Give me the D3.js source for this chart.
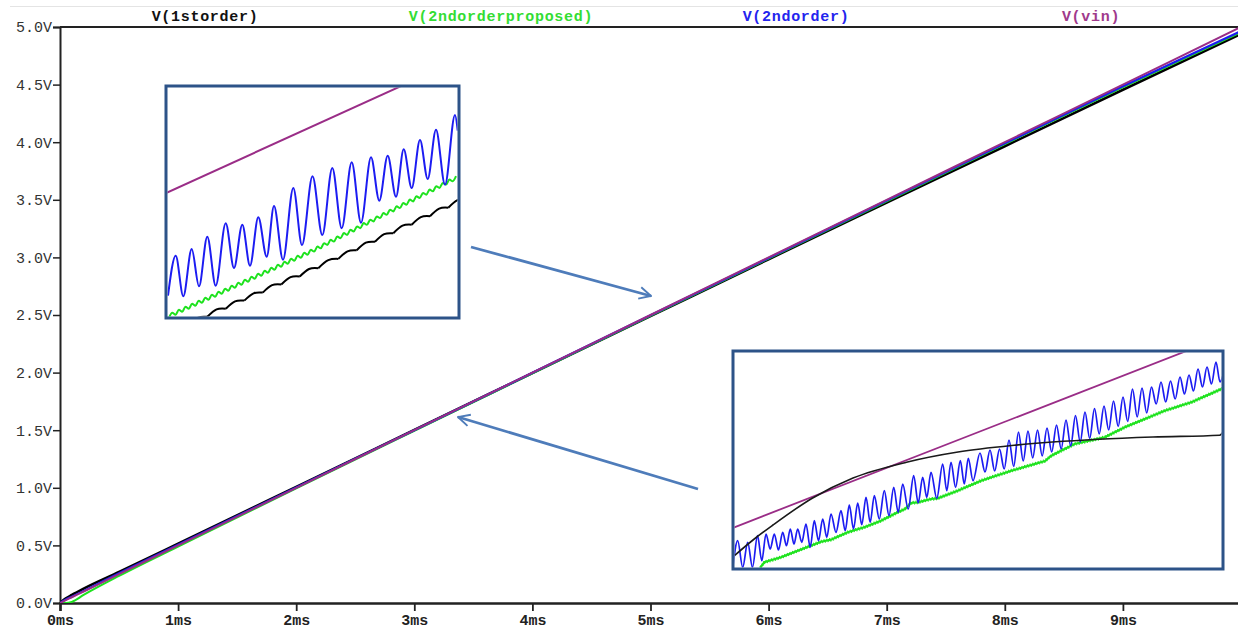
<!DOCTYPE html>
<html><head><meta charset="utf-8">
<script src="https://cdn.jsdelivr.net/npm/d3@7"></script>
<style>body{margin:0;background:#fff;} svg{display:block;}</style>
</head><body><svg id="c" width="1238" height="630"></svg>
<script>
// ---------- main chart data ----------
const timeMs   = [0, 0.05, 0.1, 0.2, 0.5, 1, 2, 3, 4, 5, 6, 7, 8, 9, 10];
const vVin     = [0, 0.025, 0.05, 0.1, 0.25, 0.5, 1, 1.5, 2, 2.5, 3, 3.5, 4, 4.5, 5];
const v1st     = [0, 0.04, 0.07, 0.125, 0.27, 0.515, 1.008, 1.502, 1.996, 2.49, 2.984, 3.476, 3.965, 4.455, 4.94];
const v2nd     = [0, 0.03, 0.055, 0.105, 0.258, 0.505, 1.003, 1.5, 1.998, 2.497, 2.995, 3.493, 3.99, 4.485, 4.965];
const v2ndProp = [0, 0, 0.01, 0.07, 0.235, 0.49, 0.995, 1.495, 1.993, 2.492, 2.99, 3.487, 3.983, 4.477, 4.955];
const seriesNames = ["V(1storder)", "V(2ndorderproposed)", "V(2ndorder)", "V(vin)"];
const xTickVals = [0,1,2,3,4,5,6,7,8,9];
const yTickVals = [0,0.5,1,1.5,2,2.5,3,3.5,4,4.5,5];

// ---------- inset 1 (zoomed detail) data, local units ----------
const in1VinT = [0, 293];
const in1VinV = [125, 258.3];
const in1BlueT = [2,9.7,17.3,25.7,33,41.3,49.7,59.7,68,76.3,84,92.3,100.7,108,117,127.3,136,146.5,156.3,166.3,175.7,185.7,195,205,213.3,221.7,230,237.7,245.7,254,261.7,270,279,289,291.7];
const in1BlueV = [22.3,62.3,21.7,69,31.7,81.3,32.3,94.7,50,93.3,52.3,100.7,61.3,112,58.3,130,73,141.7,83,150,89.7,155.7,95.3,160.7,117.3,162.3,121.3,168.7,130,178,139,188.3,133.3,203,187.3];
const in1GreenV = [0.3,5.2,3.3,8.2,6.3,11.2,9.3,14.2,12.3,17.2,15.3,20.2,18.3,23.2,21.3,26.2,24.3,29.2,27.3,32.2,30.3,35.2,33.3,38.2,36.3,41.2,39.3,44.2,42.3,47.2,45.3,50.2,48.3,53.2,51.3,56.2,54.3,59.2,57.3,62.2,60.3,65.2,63.3,68.2,66.4,71.5,69.7,74.8,73.1,78.2,76.4,81.5,79.8,84.9,83.1,88.2,86.5,91.6,89.8,94.9,93.2,98.3,96.5,101.6,99.9,105.0,103.2,108.3,106.6,111.7,109.9,115.0,113.3,118.4,116.6,121.7,120.0,125.1,123.3,128.4,126.7,131.8,130.0,135.1,133.4,138.5,136.7,141.8];
const in1GreenSpan = [3, 290];
const in1CuspT = [22.8,41.3,59.8,78.3,96.8,115.3,133.8,152.3,172.3,190.7,209,227.3,245.7,264,282.3,300.6];
const in1CuspV = [-6.8,1.2,9.3,17.4,25.4,33.5,41.5,49.8,59.1,67.7,76.2,84.7,93.3,101.8,110.3,118.8];
const in1ArchT = [32.05,50.55,69.05,87.55,106.05,124.55,143.05,162.3,181.5,199.85,218.15,236.5,254.85,273.15,291.45];
const in1ArchV = [0.4,8.6,16.7,24.7,32.8,40.8,49,57.8,66.7,75.3,83.8,92.3,100.9,109.4,117.9];

// ---------- inset 2 (zoomed detail) data, local units ----------
const in2VinT = [0, 490];
const in2VinV = [41.2, 232.3];
const in2BlackT = [1.7, 20, 40, 79.2, 120, 173.5, 225, 281.2, 365.4, 420, 486.6, 493];
const in2BlackV = [13.6, 29, 44, 70.8, 91, 106.8, 117, 123.7, 129.7, 132, 133.8, 143];
const in2BlueT = [0,4.7,9.7,14.7,19.5,24.5,28.8,33,37.2,41.3,45.5,49.7,53.5,57.3,61,64.7,68.8,73,77.2,81.3,85.5,89.7,93.8,98,103,108,112.2,116.3,120.5,124.7,128.8,133,137.2,141.3,146.3,151.3,156,160.7,165.2,169.7,175.2,180.7,185.2,189.7,193.8,198,203.8,209.7,213.8,218,222.6,227.3,231.3,235.3,240,
  247,252,257,261.7,266.5,271.2,276,280.7,285.5,290.2,295,299.7,304.5,309.2,314,318.7,323.5,328.2,333,337.7,342.5,347.2,352,356.7,361.5,366.2,371,375.7,380.5,385.2,390,394.7,399.5,404.2,409,413.7,418.5,423.2,428,432.7,437.5,442.2,447,451.5,456,460.5,465,469.5,474,478.5,483,487,490];
const in2BlueV = [3,28.3,1.7,26.7,1.7,33.3,8.3,35,20,35,19,36.7,23.3,40,25,40,26.7,45,21.7,48.3,28.3,50,31.7,55,36.7,58.3,38.3,64,40,66,44.3,71.7,46.7,73.3,50,78.3,53.3,81.7,56.7,85,60,93.3,66,91.7,71.7,96.7,70.7,105,78.3,106.7,81.7,108.3,85,110.7,88.3,
  116,97,119,98,120,100,129,102.5,137,108,138,111,139,113,141,117,144,120,149,123,153.5,127,157,130.5,160.5,135,163,139,168,142.5,172,147.5,180,152,181,156,182,165,187,167,188,170,192,175,194,178,200,182,202,185,207,187,194];
const in2GreenT = [27,31.3,48,64.7,88,98,114.7,131.3,148,164.7,172,178,184.7,198,204.7,224.7,248,278.3,312,318,325,341.7,371.7,381.7,391.7,411.7,431.7,458.3,490];
const in2GreenV = [1,6.7,11.7,18.3,27.3,29.3,36.7,41.7,48.3,56.7,60,66,66.7,70,70.7,78.3,88.3,98.3,108,113,116.7,125,131.7,136.7,141.7,150,158.3,166.7,180.7];

// ---------- styles / layout ----------
const COL = {first:"#000000", prop:"#1ee21e", second:"#1c1cf2", vin:"#9a2d87"};
const LEG = {first:"#111111", prop:"#33dd33", second:"#2424ee", vin:"#a03a8c"};
const svg = d3.select("#c");
svg.append("rect").attr("width",1238).attr("height",630).attr("fill","#fff");
const x = d3.scaleLinear().domain([0,10]).range([60,1241]);
const y = d3.scaleLinear().domain([0,5]).range([603,27]);

svg.append("line").attr("x1",10).attr("x2",1238).attr("y1",6.5).attr("y2",6.5).attr("stroke","#e4e4e4").attr("stroke-width",1);

const legX = [205, 501, 796, 1091];
const legC = [LEG.first, LEG.prop, LEG.second, LEG.vin];
seriesNames.forEach((n,i)=>{
  svg.append("text").attr("x",legX[i]).attr("y",21).attr("text-anchor","middle")
    .attr("font-family","'Liberation Mono', monospace").attr("font-weight","bold")
    .attr("font-size",15).attr("letter-spacing","0.7px").attr("fill",legC[i]).text(n);
});

const gy = svg.append("g").attr("transform","translate(60,0)")
  .call(d3.axisLeft(y).tickValues(yTickVals).tickFormat(d=>d3.format(".1f")(d)+"V").tickSize(7).tickPadding(1));
gy.select(".domain").attr("stroke","#222").attr("stroke-width",2);
gy.selectAll(".tick line").attr("stroke","#222").attr("stroke-width",1.5);
gy.selectAll("text").attr("font-family","'Liberation Mono', monospace").attr("font-size",15).attr("fill","#333");

const gx = svg.append("g").attr("transform","translate(0,603)")
  .call(d3.axisBottom(x).tickValues(xTickVals).tickFormat(d=>d+"ms").tickSize(8).tickPadding(3));
gx.select(".domain").attr("stroke","#222").attr("stroke-width",2.5);
gx.selectAll(".tick line").attr("stroke","#222").attr("stroke-width",1.8);
gx.selectAll("text").attr("font-family","'Liberation Mono', monospace").attr("font-weight","bold").attr("font-size",15).attr("fill","#222");

svg.append("line").attr("x1",60).attr("x2",1238).attr("y1",y(5)).attr("y2",y(5)).attr("stroke","#222").attr("stroke-width",2);

svg.append("clipPath").attr("id","mainclip").append("rect").attr("x",60).attr("y",y(5)).attr("width",1238-60).attr("height",y(0)-y(5));
const gm = svg.append("g").attr("clip-path","url(#mainclip)");
const lineMain = d3.line().x((d,i)=>x(timeMs[i])).y(d=>y(d)).curve(d3.curveMonotoneX);
[[v1st,COL.first,2.6],[v2ndProp,COL.prop,2],[v2nd,COL.second,2.2],[vVin,COL.vin,2]].forEach(([arr,c,w])=>{
  gm.append("path").datum(arr).attr("d",lineMain).attr("fill","none").attr("stroke",c).attr("stroke-width",w);
});

const arrowCol = "#4e7cba";
const defs = svg.append("defs");
defs.append("marker").attr("id","ah").attr("viewBox","0 0 12 12").attr("refX",11).attr("refY",6)
  .attr("markerWidth",5).attr("markerHeight",5).attr("markerUnits","strokeWidth").attr("orient","auto")
  .append("path").attr("d","M1,1 L11,6 L1,11").attr("fill","none").attr("stroke",arrowCol).attr("stroke-width",1.6);
const arrows = [[471,247,651,296],[698,489,458,417]];
arrows.forEach(a=>{
  svg.append("line").attr("x1",a[0]).attr("y1",a[1]).attr("x2",a[2]).attr("y2",a[3])
    .attr("stroke",arrowCol).attr("stroke-width",2.8).attr("marker-end","url(#ah)");
});

function inset(id, box, xd, yd, draw){
  const g = svg.append("g");
  g.append("rect").attr("x",box[0]).attr("y",box[1]).attr("width",box[2]-box[0]).attr("height",box[3]-box[1]).attr("fill","#fff");
  g.append("clipPath").attr("id",id).append("rect").attr("x",box[0]+1.5).attr("y",box[1]+1.5)
    .attr("width",box[2]-box[0]-3).attr("height",box[3]-box[1]-3);
  const sx = d3.scaleLinear().domain(xd).range([box[0],box[2]]);
  const sy = d3.scaleLinear().domain(yd).range([box[3],box[1]]);
  const inner = g.append("g").attr("clip-path",`url(#${id})`);
  draw(inner, sx, sy);
  g.append("rect").attr("x",box[0]).attr("y",box[1]).attr("width",box[2]-box[0]).attr("height",box[3]-box[1])
    .attr("fill","none").attr("stroke","#2d5388").attr("stroke-width",3);
}
function pts(T,V){ return T.map((t,i)=>[t,V[i]]); }

inset("clip1",[166,86,459,318],[0,293],[0,232],(g,sx,sy)=>{
  const L = d3.line().x(d=>sx(d[0])).y(d=>sy(d[1]));
  g.append("path").datum(pts(in1VinT,in1VinV)).attr("d",L).attr("fill","none").attr("stroke",COL.vin).attr("stroke-width",2);
  const La = d3.line().x(d=>sx(d[0])).y(d=>sy(d[1])).curve(d3.curveNatural);
  for(let i=0;i<in1ArchT.length;i++){
    g.append("path").datum([[in1CuspT[i],in1CuspV[i]],[in1ArchT[i],in1ArchV[i]],[in1CuspT[i+1],in1CuspV[i+1]]])
      .attr("d",La).attr("fill","none").attr("stroke",COL.first).attr("stroke-width",2);
  }
  const gi = d3.scaleLinear().domain([0,in1GreenV.length-1]).range(in1GreenSpan);
  g.append("path").datum(in1GreenV).attr("d",d3.line().x((d,i)=>sx(gi(i))).y(d=>sy(d)).curve(d3.curveMonotoneX))
    .attr("fill","none").attr("stroke",COL.prop).attr("stroke-width",2);
  g.append("path").datum(pts(in1BlueT,in1BlueV)).attr("d",L.curve(d3.curveMonotoneX))
    .attr("fill","none").attr("stroke",COL.second).attr("stroke-width",2);
});

inset("clip2",[733,351,1223,569],[0,490],[0,218],(g,sx,sy)=>{
  const L = d3.line().x(d=>sx(d[0])).y(d=>sy(d[1]));
  g.append("path").datum(pts(in2VinT,in2VinV)).attr("d",L).attr("fill","none").attr("stroke",COL.vin).attr("stroke-width",1.8);
  const gp = pts(in2GreenT,in2GreenV);
  g.append("path").datum(gp).attr("d",L).attr("fill","none").attr("stroke",COL.prop).attr("stroke-width",2.2);
  // fine ripple texture of the green trace (style only)
  [-1.3, 1.3].forEach((dy,k)=>{
    g.append("path").datum(gp).attr("d",L).attr("transform",`translate(0,${dy})`).attr("fill","none")
      .attr("stroke",COL.prop).attr("stroke-width",1.1).attr("stroke-dasharray","1.2,1.6").attr("stroke-dashoffset",k*1.4);
  });
  g.append("path").datum(pts(in2BlueT,in2BlueV)).attr("d",d3.line().x(d=>sx(d[0])).y(d=>sy(d[1])).curve(d3.curveMonotoneX))
    .attr("fill","none").attr("stroke",COL.second).attr("stroke-width",1.7);
  g.append("path").datum(pts(in2BlackT,in2BlackV)).attr("d",d3.line().x(d=>sx(d[0])).y(d=>sy(d[1])).curve(d3.curveMonotoneX))
    .attr("fill","none").attr("stroke","#1a1a1a").attr("stroke-width",1.6);
});
</script></body></html>
